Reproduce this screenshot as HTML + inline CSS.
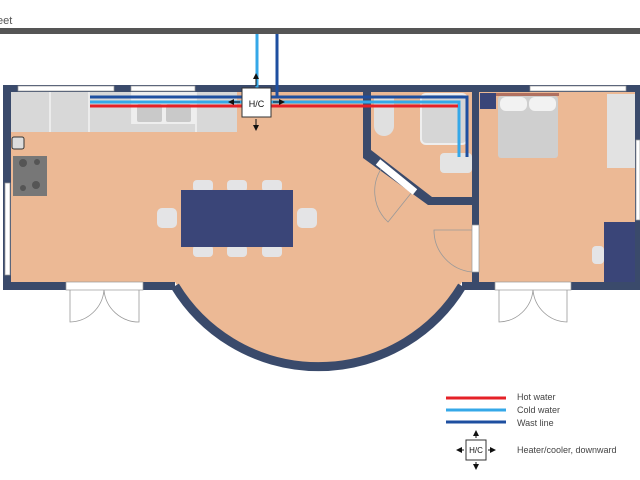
<!DOCTYPE html>
<html><head><style>body{margin:0;background:#fff}svg{display:block}text{font-family:"Liberation Sans",sans-serif}</style></head><body>
<svg width="640" height="480" viewBox="0 0 640 480" xmlns="http://www.w3.org/2000/svg">
<defs><marker id="a" markerWidth="6" markerHeight="6" refX="5" refY="3" orient="auto"><path d="M0,0L6,3L0,6z" fill="#111"/></marker></defs>
<rect width="640" height="480" fill="#fff"/>
<text x="-3" y="24" font-size="11" fill="#555">eet</text>
<rect x="0" y="28" width="640" height="6" fill="#555"/>
<!-- floors -->
<rect x="11" y="92" width="352" height="190" fill="#ecb995"/>
<rect x="363" y="92" width="110" height="190" fill="#ecb995"/>
<rect x="478" y="92" width="157" height="190" fill="#ecb995"/>
<path d="M175,282 A168,168 0 0 0 462,282 Z" fill="#ecb995"/>
<!-- walls -->
<g fill="#3a4a6b">
<rect x="3" y="85" width="8" height="205"/>
<rect x="3" y="85" width="637" height="7"/>
<rect x="635" y="85" width="5" height="205"/>
<rect x="3" y="282" width="172" height="8"/>
<rect x="462" y="282" width="178" height="8"/>
<rect x="363" y="92" width="8" height="62"/>
<rect x="472" y="92" width="7" height="190"/>
<polygon points="363,150 371,150 432,197 472,197 472,205 428,205 363,158"/>
</g>
<path d="M175,286 A168,168 0 0 0 462,286" fill="none" stroke="#3a4a6b" stroke-width="9"/>
<!-- windows -->
<g fill="#fff" stroke="#999" stroke-width="0.7">
<rect x="18" y="86" width="96" height="5"/><rect x="131" y="86" width="64" height="5"/>
<rect x="530" y="86" width="96" height="5"/><rect x="5" y="183" width="5" height="92"/>
<rect x="636" y="140" width="4" height="80"/>
<rect x="66" y="282" width="77" height="8"/><rect x="495" y="282" width="76" height="8"/>
<rect x="472" y="225" width="7" height="47"/>
</g>
<!-- doors -->
<g fill="none" stroke="#999" stroke-width="0.8">
<path d="M70,290 V322 A35,35 0 0 0 104,290 M139,290 V322 A35,35 0 0 1 104,290"/>
<path d="M499,290 V322 A35,35 0 0 0 533,290 M567,290 V322 A35,35 0 0 1 533,290"/>
<path d="M472,230 H434 A42,42 0 0 0 472,272"/>
<path d="M384,165 A42,42 0 0 0 388,222 L412,192"/>
</g>
<line x1="378" y1="162" x2="415" y2="192" stroke="#fff" stroke-width="7"/>
<!-- kitchen -->
<rect x="11" y="92" width="226" height="40" fill="#d8d8d8"/>
<g stroke="#fff" stroke-width="1"><line x1="50" y1="92" x2="50" y2="132"/><line x1="89" y1="92" x2="89" y2="132"/><line x1="132" y1="92" x2="132" y2="124"/><line x1="196" y1="92" x2="196" y2="132"/></g>
<rect x="132" y="92" width="64" height="32" fill="#eee"/>
<rect x="137" y="104" width="25" height="18" rx="2" fill="#c9c9c9"/><rect x="166" y="104" width="25" height="18" rx="2" fill="#c9c9c9"/>
<rect x="12" y="137" width="12" height="12" rx="2" fill="#ddd" stroke="#333"/>
<rect x="13" y="156" width="34" height="40" fill="#777"/>
<g fill="#555"><circle cx="23" cy="163" r="4"/><circle cx="37" cy="162" r="3"/><circle cx="23" cy="188" r="3"/><circle cx="36" cy="185" r="4"/></g>
<!-- table -->
<g fill="#e4e4e6"><rect x="193" y="180" width="20" height="12" rx="4"/><rect x="227" y="180" width="20" height="12" rx="4"/><rect x="262" y="180" width="20" height="12" rx="4"/>
<rect x="193" y="245" width="20" height="12" rx="4"/><rect x="227" y="245" width="20" height="12" rx="4"/><rect x="262" y="245" width="20" height="12" rx="4"/>
<rect x="157" y="208" width="20" height="20" rx="5"/><rect x="297" y="208" width="20" height="20" rx="5"/></g>
<rect x="181" y="190" width="112" height="57" fill="#3a4578"/>
<!-- bathroom -->
<path d="M374,98 h20 v28 a10,10 0 0 1 -20,0z" fill="#e0e0e0"/>
<rect x="421" y="94" width="46" height="50" rx="5" fill="#d6d6d6" stroke="#eee" stroke-width="2"/>
<rect x="440" y="153" width="32" height="20" rx="4" fill="#e4e4e4"/>
<!-- bedroom -->
<rect x="480" y="93" width="16" height="16" fill="#3a4578"/>
<rect x="496" y="93" width="63" height="3" fill="#b07060"/>
<rect x="498" y="96" width="60" height="62" rx="3" fill="#cfcfcf"/>
<rect x="500" y="97" width="27" height="14" rx="6" fill="#f2f2f2"/><rect x="529" y="97" width="27" height="14" rx="6" fill="#f2f2f2"/>
<rect x="607" y="94" width="28" height="74" fill="#e2e2e2"/>
<rect x="604" y="222" width="31" height="60" fill="#3a4578"/>
<rect x="592" y="246" width="12" height="18" rx="4" fill="#e4e4e6"/>
<!-- pipes -->
<g fill="none" stroke-width="3">
<polyline points="90,97 467,97 467,157" stroke="#1e4fa0"/>
<polyline points="90,102 459,102 459,157" stroke="#35a8e8"/>
<line x1="90" y1="106" x2="458" y2="106" stroke="#e52127"/>
<line x1="257" y1="34" x2="257" y2="97" stroke="#35a8e8"/>
<line x1="277" y1="34" x2="277" y2="97" stroke="#1e4fa0"/>
</g>
<rect x="242" y="88" width="29" height="29" fill="#fff" stroke="#333"/>
<text x="256.5" y="107" font-size="9" text-anchor="middle" fill="#111">H/C</text>
<g stroke="#111" stroke-width="1" marker-end="url(#a)"><line x1="256" y1="86" x2="256" y2="74"/><line x1="256" y1="119" x2="256" y2="130"/><line x1="240" y1="102" x2="229" y2="102"/><line x1="273" y1="102" x2="284" y2="102"/></g>
<!-- legend -->
<line x1="446" y1="398" x2="506" y2="398" stroke="#e52127" stroke-width="3"/>
<line x1="446" y1="410" x2="506" y2="410" stroke="#35a8e8" stroke-width="3"/>
<line x1="446" y1="422" x2="506" y2="422" stroke="#1e4fa0" stroke-width="3"/>
<g font-size="9" fill="#444"><text x="517" y="400">Hot water</text><text x="517" y="413">Cold water</text><text x="517" y="426">Wast line</text><text x="517" y="453">Heater/cooler, downward</text></g>
<rect x="466" y="440" width="20" height="20" fill="#fff" stroke="#333"/>
<text x="476" y="453" font-size="8" text-anchor="middle" fill="#111">H/C</text>
<g stroke="#111" stroke-width="1" marker-end="url(#a)"><line x1="476" y1="438" x2="476" y2="431"/><line x1="476" y1="462" x2="476" y2="469"/><line x1="464" y1="450" x2="457" y2="450"/><line x1="488" y1="450" x2="495" y2="450"/></g>
</svg>
</body></html>
